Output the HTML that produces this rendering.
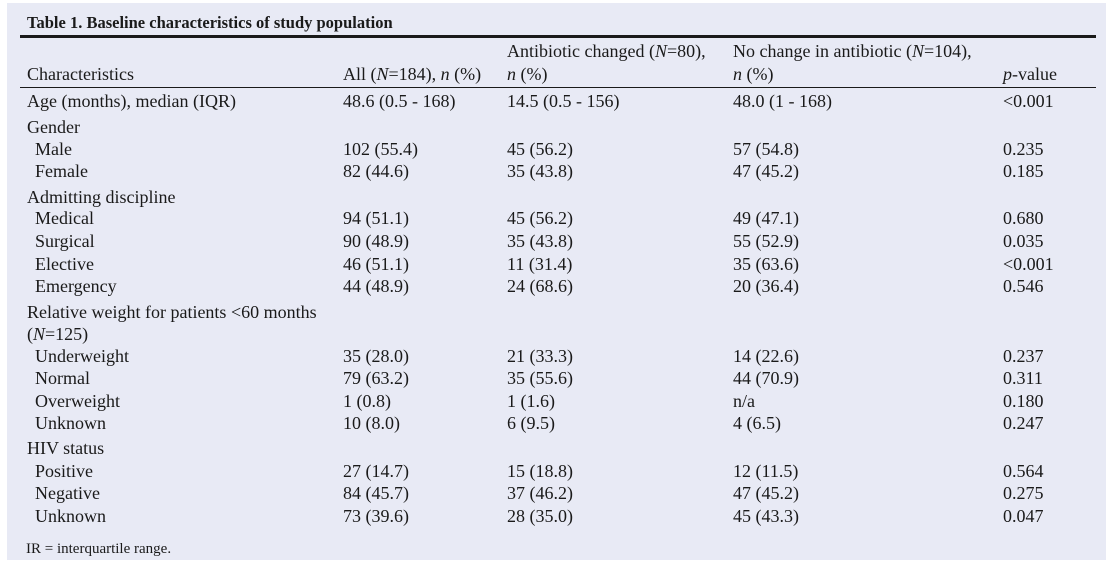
<!DOCTYPE html>
<html><head><style>
body{margin:0;width:1106px;height:570px;background:#fff;position:relative;overflow:hidden;font-family:"Liberation Serif",serif;color:#1a1a1a}
#p{position:absolute;left:7px;top:3px;width:1099px;height:557px;background:#e8eaf5}
.t{position:absolute;font-size:18px;white-space:nowrap;line-height:20px}
.r{position:absolute;left:0;width:1106px;height:20px}
.r span{position:absolute;font-size:18px;white-space:nowrap;line-height:20px}
.a{left:27px}.b{left:343px}.c{left:507px}.d{left:733px}.e{left:1003px}
.i{left:35px}
</style></head><body>
<div id="p"></div>
<div class="t" style="left:27px;top:13px;font-weight:bold;font-size:16.5px">Table 1. Baseline characteristics of study population</div>
<div style="position:absolute;left:20px;top:35px;width:1076px;height:3px;background:#1a1a1a"></div>
<div class="r" style="top:41px"><span class="c">Antibiotic changed (<i>N</i>=80),</span><span class="d">No change in antibiotic (<i>N</i>=104),</span></div>
<div class="r" style="top:64px"><span class="a">Characteristics</span><span class="b">All (<i>N</i>=184), <i>n</i> (%)</span><span class="c"><i>n</i> (%)</span><span class="d"><i>n</i> (%)</span><span class="e"><i>p</i>-value</span></div>
<div style="position:absolute;left:20px;top:87px;width:1076px;height:1px;background:#1a1a1a"></div>
<div class="r" style="top:91px"><span class="a">Age (months), median (IQR)</span><span class="b">48.6 (0.5 - 168)</span><span class="c">14.5 (0.5 - 156)</span><span class="d">48.0 (1 - 168)</span><span class="e">&lt;0.001</span></div>
<div class="r" style="top:117px"><span class="a">Gender</span></div>
<div class="r" style="top:139px"><span class="i">Male</span><span class="b">102 (55.4)</span><span class="c">45 (56.2)</span><span class="d">57 (54.8)</span><span class="e">0.235</span></div>
<div class="r" style="top:161px"><span class="i">Female</span><span class="b">82 (44.6)</span><span class="c">35 (43.8)</span><span class="d">47 (45.2)</span><span class="e">0.185</span></div>
<div class="r" style="top:187px"><span class="a">Admitting discipline</span></div>
<div class="r" style="top:208px"><span class="i">Medical</span><span class="b">94 (51.1)</span><span class="c">45 (56.2)</span><span class="d">49 (47.1)</span><span class="e">0.680</span></div>
<div class="r" style="top:231px"><span class="i">Surgical</span><span class="b">90 (48.9)</span><span class="c">35 (43.8)</span><span class="d">55 (52.9)</span><span class="e">0.035</span></div>
<div class="r" style="top:254px"><span class="i">Elective</span><span class="b">46 (51.1)</span><span class="c">11 (31.4)</span><span class="d">35 (63.6)</span><span class="e">&lt;0.001</span></div>
<div class="r" style="top:276px"><span class="i">Emergency</span><span class="b">44 (48.9)</span><span class="c">24 (68.6)</span><span class="d">20 (36.4)</span><span class="e">0.546</span></div>
<div class="r" style="top:302px"><span class="a">Relative weight for patients &lt;60 months</span></div>
<div class="r" style="top:324px"><span class="a">(<i>N</i>=125)</span></div>
<div class="r" style="top:346px"><span class="i">Underweight</span><span class="b">35 (28.0)</span><span class="c">21 (33.3)</span><span class="d">14 (22.6)</span><span class="e">0.237</span></div>
<div class="r" style="top:368px"><span class="i">Normal</span><span class="b">79 (63.2)</span><span class="c">35 (55.6)</span><span class="d">44 (70.9)</span><span class="e">0.311</span></div>
<div class="r" style="top:391px"><span class="i">Overweight</span><span class="b">1 (0.8)</span><span class="c">1 (1.6)</span><span class="d">n/a</span><span class="e">0.180</span></div>
<div class="r" style="top:413px"><span class="i">Unknown</span><span class="b">10 (8.0)</span><span class="c">6 (9.5)</span><span class="d">4 (6.5)</span><span class="e">0.247</span></div>
<div class="r" style="top:438px"><span class="a">HIV status</span></div>
<div class="r" style="top:461px"><span class="i">Positive</span><span class="b">27 (14.7)</span><span class="c">15 (18.8)</span><span class="d">12 (11.5)</span><span class="e">0.564</span></div>
<div class="r" style="top:483px"><span class="i">Negative</span><span class="b">84 (45.7)</span><span class="c">37 (46.2)</span><span class="d">47 (45.2)</span><span class="e">0.275</span></div>
<div class="r" style="top:506px"><span class="i">Unknown</span><span class="b">73 (39.6)</span><span class="c">28 (35.0)</span><span class="d">45 (43.3)</span><span class="e">0.047</span></div>
<div class="t" style="left:26px;top:539px;font-size:15px">IR = interquartile range.</div>
</body></html>
